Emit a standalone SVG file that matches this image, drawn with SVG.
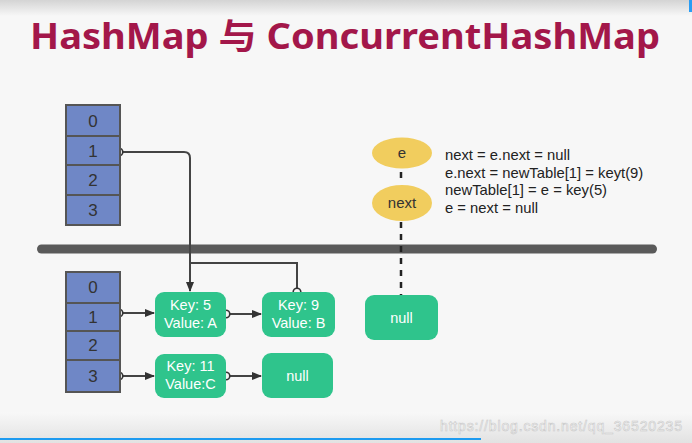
<svg xmlns="http://www.w3.org/2000/svg" width="692" height="443" viewBox="0 0 692 443">
<defs>
<linearGradient id="topg" x1="0" y1="0" x2="0" y2="1"><stop offset="0" stop-color="#d4d4d4"/><stop offset="1" stop-color="#f7f7f7"/></linearGradient>
<linearGradient id="botg" x1="0" y1="0" x2="0" y2="1"><stop offset="0" stop-color="#f8f8f8"/><stop offset="1" stop-color="#e2e2e2"/></linearGradient>
<marker id="arr" markerWidth="10" markerHeight="10" refX="9" refY="5" orient="auto" markerUnits="userSpaceOnUse"><path d="M0,1 L10,5 L0,9 Z" fill="#333"/></marker>
<style>
.cell{fill:#6f87c6;stroke:#555;stroke-width:2}
.ctext{font-family:"Liberation Sans",Arial,sans-serif;font-size:17px;fill:#333;text-anchor:middle}
.node{fill:#2fc48c}
.ntext{font-family:"Liberation Sans",Arial,sans-serif;font-size:14.5px;fill:#fff;text-anchor:middle}
.link{fill:none;stroke:#444;stroke-width:2}
.port{fill:#f5f5f5;stroke:#333;stroke-width:1.6}
.code{font-family:"Liberation Sans",Arial,sans-serif;font-size:14.8px;fill:#222}
.ell{fill:#f1cd5e}
.etext{font-family:"Liberation Sans",Arial,sans-serif;font-size:15px;fill:#333;text-anchor:middle}
</style>
</defs>
<rect width="692" height="443" fill="#f7f7f7"/>
<rect width="692" height="16" fill="url(#topg)"/>
<rect y="412" width="692" height="31" fill="url(#botg)"/>
<rect x="689" y="0" width="3" height="12" fill="#2a9df4"/>
<text x="345" y="49" font-family="'Noto Sans','Noto Sans CJK SC',sans-serif" font-size="35" font-weight="bold" fill="#a3174a" text-anchor="middle" textLength="630" lengthAdjust="spacingAndGlyphs">HashMap 与 ConcurrentHashMap</text>

<rect x="37" y="244.5" width="620" height="9" rx="4.5" fill="#5a5a5a"/>

<g id="connectors">
<path class="link" d="M119,152 H184 Q190,152 190,158 V291" marker-end="url(#arr)"/>
<path class="link" d="M297,292 V263 H190"/>
<path class="link" d="M119,313 H154" marker-end="url(#arr)"/>
<path class="link" d="M226,314 H261" marker-end="url(#arr)"/>
<path class="link" d="M119,376 H154" marker-end="url(#arr)"/>
<path class="link" d="M226,376 H261" marker-end="url(#arr)"/>
<line x1="401" y1="172" x2="401" y2="178" stroke="#222" stroke-width="2.5"/>
<line x1="401" y1="222" x2="401" y2="295" stroke="#222" stroke-width="2.5" stroke-dasharray="6,6"/>
<circle class="port" cx="119" cy="152" r="3.8"/>
<circle class="port" cx="119" cy="313" r="3.8"/>
<circle class="port" cx="226" cy="314" r="3.8"/>
<circle class="port" cx="119" cy="376" r="3.8"/>
<circle class="port" cx="226" cy="376" r="3.8"/>
<circle class="port" cx="297" cy="292" r="3.8"/>
</g>

<g id="table-top">
<rect class="cell" x="66" y="105" width="54" height="31"/>
<rect class="cell" x="66" y="136" width="54" height="29"/>
<rect class="cell" x="66" y="165" width="54" height="30"/>
<rect class="cell" x="66" y="195" width="54" height="30"/>
<text class="ctext" x="93" y="127">0</text>
<text class="ctext" x="93" y="157">1</text>
<text class="ctext" x="93" y="186">2</text>
<text class="ctext" x="93" y="216">3</text>
</g>

<g id="table-bottom">
<rect class="cell" x="66" y="272" width="54" height="31"/>
<rect class="cell" x="66" y="303" width="54" height="28"/>
<rect class="cell" x="66" y="331" width="54" height="29"/>
<rect class="cell" x="66" y="360" width="54" height="32"/>
<text class="ctext" x="93" y="293">0</text>
<text class="ctext" x="93" y="323">1</text>
<text class="ctext" x="93" y="351">2</text>
<text class="ctext" x="93" y="382">3</text>
</g>

<g id="node-key5">
<rect class="node" x="155" y="292" width="71" height="45" rx="9"/>
<text class="ntext" x="190.5" y="310">Key: 5</text>
<text class="ntext" x="190.5" y="328">Value: A</text>
</g>
<g id="node-key9">
<rect class="node" x="262" y="292" width="73" height="45" rx="9"/>
<text class="ntext" x="298.5" y="310">Key: 9</text>
<text class="ntext" x="298.5" y="328">Value: B</text>
</g>
<g id="node-key11">
<rect class="node" x="155" y="354" width="71" height="44" rx="9"/>
<text class="ntext" x="190.5" y="371">Key: 11</text>
<text class="ntext" x="190.5" y="389">Value:C</text>
</g>
<g id="node-null1">
<rect class="node" x="262" y="353" width="71" height="45" rx="9"/>
<text class="ntext" x="297.5" y="381">null</text>
</g>
<g id="node-null2">
<rect class="node" x="365" y="295" width="73" height="45" rx="9"/>
<text class="ntext" x="401.5" y="323">null</text>
</g>
<g id="node-e">
<ellipse class="ell" cx="402" cy="153" rx="30" ry="15.5"/>
<text class="etext" x="402" y="158">e</text>
</g>
<g id="node-next">
<ellipse class="ell" cx="402" cy="203" rx="30" ry="18"/>
<text class="etext" x="402" y="208">next</text>
</g>
<g id="code">
<text class="code" x="445" y="160">next = e.next = null</text>
<text class="code" x="445" y="178">e.next = newTable[1] = keyt(9)</text>
<text class="code" x="445" y="195">newTable[1] = e = key(5)</text>
<text class="code" x="445" y="213">e = next = null</text>
</g>
<text x="440" y="431" font-family="'Liberation Sans',Arial,sans-serif" font-size="14" fill="#ffffff" stroke="#c8c8c8" stroke-width="0.6" textLength="242">https://blog.csdn.net/qq_36520235</text>
<rect x="0" y="438" width="481" height="2" fill="#1e9bf0"/>
</svg>
